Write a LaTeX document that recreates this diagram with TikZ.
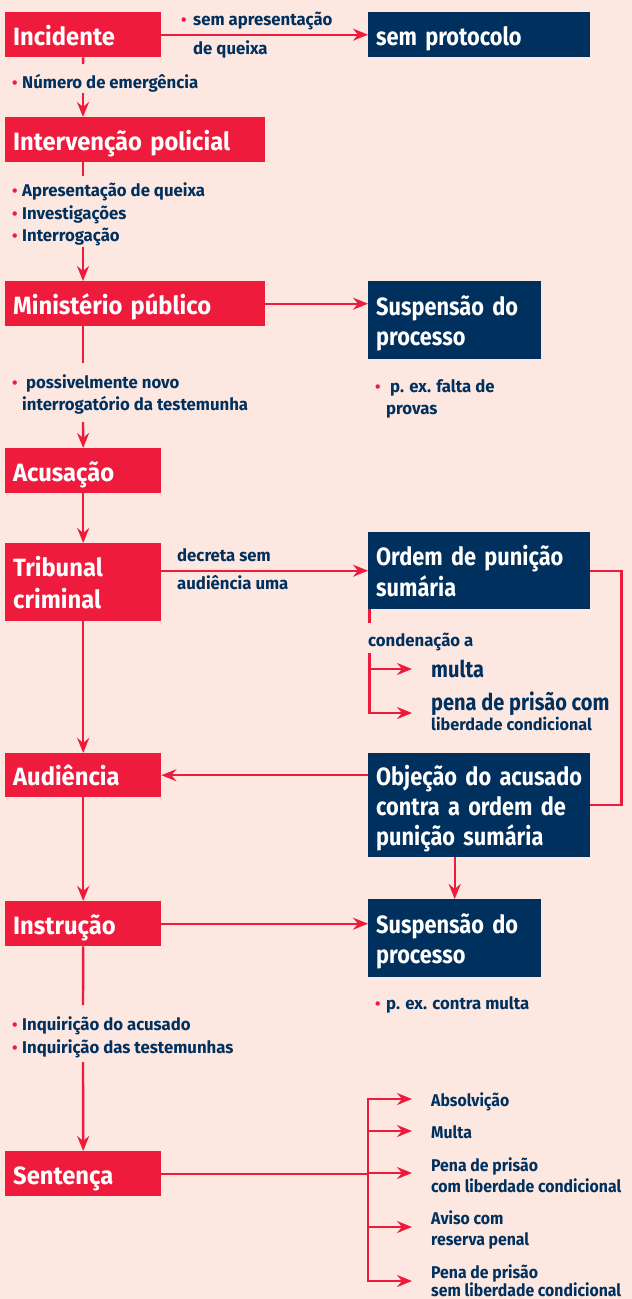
\documentclass[tikz,border=0pt]{standalone}
\usepackage{fontspec}
\setmainfont{Fira Sans}[FakeStretch=0.985]
\newfontfamily\redfont{Fira Sans}[FakeStretch=0.95]
\newfontfamily\bluefont{Fira Sans}[FakeStretch=0.87]
\newfontfamily\outfont{Fira Sans}[FakeStretch=0.93]
\usetikzlibrary{arrows.meta,calc}
\definecolor{bg}{HTML}{FDE7E1}
\definecolor{myred}{HTML}{EE1B3C}
\definecolor{navy}{HTML}{00305E}
\newcommand\mybul[1][10pt]{\makebox[#1][l]{\textcolor{myred}{\fontsize{16}{16}\selectfont\textbullet}}}
\newcommand\bsh{\rule{0pt}{28pt}}
\newcommand\bsd{\rule[-7pt]{0pt}{7pt}}
\newcommand\bs{\bsh\bsd}
\begin{document}
\begin{tikzpicture}[x=1pt,y=-1pt,
 box/.style={anchor=north west, inner xsep=8pt, inner ysep=0pt, text=white, align=left},
 redbox/.style={box, fill=myred, font=\redfont\fontsize{25}{31}\selectfont\bfseries},
 bluebox/.style={box, fill=navy, font=\bluefont\fontsize{25}{31}\selectfont\bfseries},
 conn/.style={draw=myred, line width=2.4pt},
 arr/.style={conn, -{Stealth[length=15pt,width=12pt,inset=5pt]}},
 dblarr/.style={conn, {Stealth[length=15pt,width=12pt,inset=5pt]}-{Stealth[length=15pt,width=12pt,inset=5pt]}},
 lbl/.style={anchor=base west, inner sep=0pt, text=navy, font=\fontsize{17}{22}\selectfont\bfseries},
 outlbl/.style={lbl, font=\outfont\fontsize{17}{22}\selectfont\bfseries},
 biglbl/.style={lbl, font=\bluefont\fontsize{23}{26}\selectfont\bfseries},
 smalllbl/.style={lbl, font=\fontsize{16.5}{20}\selectfont\bfseries},
]
\fill[bg] (0,0) rectangle (632,1299);
\useasboundingbox (0,0) rectangle (632,1299);

% boxes
\node[redbox, text width=140pt, minimum height=45pt] (inc) at (5,12) {Incidente\bs};
\node[bluebox, text width=206pt, minimum height=45pt] (semprot) at (368,12) {sem protocolo\bs};
\node[redbox, text width=244pt, minimum height=45pt] (interv) at (5,117) {Intervenção policial\bs};
\node[redbox, text width=244pt, minimum height=45pt] (min) at (5,281) {Ministério público\bs};
\node[bluebox, text width=157pt, minimum height=78pt, font=\bluefont\fontsize{25}{30}\selectfont\bfseries] (susp1) at (368,281) {\bsh Suspensão do\\processo\bsd};
\node[redbox, text width=140pt, minimum height=45pt] (acus) at (5,448) {Acusação\bs};
\node[redbox, text width=140pt, minimum height=78pt, font=\redfont\fontsize{25}{32}\selectfont\bfseries] (trib) at (5,543) {\bsh Tribunal\\criminal\bsd};
\node[bluebox, text width=206pt, minimum height=77pt] (ordem) at (368,532) {\bsh Ordem de punição\\sumária\bsd};
\node[redbox, text width=140pt, minimum height=44pt] (aud) at (5,753) {Audiência\bs};
\node[bluebox, text width=206pt, minimum height=104pt, font=\bluefont\fontsize{25}{30}\selectfont\bfseries] (obj) at (368,753) {\bsh Objeção do acusado\\contra a ordem de\\punição sumária\bsd};
\node[redbox, text width=140pt, minimum height=45pt] (instr) at (5,901) {Instrução\bs};
\node[bluebox, text width=157pt, minimum height=78pt, font=\bluefont\fontsize{25}{30}\selectfont\bfseries] (susp2) at (368,899) {\bsh Suspensão do\\processo\bsd};
\node[redbox, text width=140pt, minimum height=45pt] (sent) at (5,1151) {Sentença\bs};

% labels
\node[lbl] (la1) at (181,25) {\mybul[12pt]sem apresentação};
\node[lbl] (la2) at (193,54) {de queixa};
\node[lbl] (lb1) at (12,88) {\mybul Número de emergência};
\node[lbl] (lc1) at (12,196) {\mybul Apresentação de queixa};
\node[lbl] (lc2) at (12,219) {\mybul Investigações};
\node[lbl] (lc3) at (12,241) {\mybul Interrogação};
\node[lbl] (ld1) at (12,388) {\mybul[14pt]possivelmente novo};
\node[lbl] (ld2) at (22,410) {interrogatório da testemunha};
\node[lbl] (le1) at (375,392) {\mybul[15pt]p. ex. falta de};
\node[lbl] (le2) at (386,414) {provas};
\node[lbl] (lf1) at (177,561) {decreta sem};
\node[lbl] (lf2) at (177,589) {audiência uma};
\node[lbl] (lg1) at (368,646) {condenação a};
\node[biglbl] (lg2) at (431,677) {multa};
\node[biglbl] (lg3) at (431,710) {pena de prisão com};
\node[smalllbl] (lg4) at (431,730) {liberdade condicional};
\node[lbl] (lh1) at (375,1009) {\mybul[11pt]p. ex. contra multa};
\node[lbl] (li1) at (12,1030) {\mybul Inquirição do acusado};
\node[lbl] (li2) at (12,1053) {\mybul Inquirição das testemunhas};
\node[outlbl] (lj1) at (431,1106) {Absolvição};
\node[outlbl] (lj2) at (431,1138) {Multa};
\node[outlbl] (lj3) at (431,1171) {Pena de prisão};
\node[outlbl] (lj4) at (431,1192) {com liberdade condicional};
\node[outlbl] (lj5) at (431,1224) {Aviso com};
\node[outlbl] (lj6) at (431,1245) {reserva penal};
\node[outlbl] (lj7) at (431,1278) {Pena de prisão};
\node[outlbl] (lj8) at (431,1296) {sem liberdade condicional};

% coordinates on the main spine
\coordinate (s1) at (83,64);
\coordinate (s2) at (83,93);
\coordinate (s3) at (83,176);
\coordinate (s4) at (83,247);
\coordinate (s5) at (83,363);
\coordinate (s6) at (83,422);
\coordinate (s7) at (83,1005);
\coordinate (s8) at (83,1062);

% main spine
\draw[conn] (inc.south) -- (s1);
\draw[arr] (s2) -- (s2 |- interv.north);
\draw[conn] (s3 |- interv.south) -- (s3);
\draw[arr] (s4) -- (s4 |- min.north);
\draw[conn] (s5 |- min.south) -- (s5);
\draw[arr] (s6) -- (acus.north);
\draw[arr] (acus.south) -- (trib.north);
\draw[arr] (trib.south) -- (aud.north);
\draw[arr] (aud.south) -- (instr.north);
\draw[conn] (instr.south) -- (s7);
\draw[arr] (s8) -- (sent.north);

% side branches
\draw[arr] (inc.east) -- (semprot.west);
\draw[arr] (min.east) -- (min.east -| susp1.west);
\draw[arr] (trib.east |- ordem.west) -- (ordem.west);
\draw[conn] (ordem.east) -- ++(31,0) |- (obj.east);
\draw[arr] (obj.west |- aud.east) -- (aud.east);
\draw[arr] (susp2.north |- obj.south) -- (susp2.north);
\draw[arr] (instr.east) -- (instr.east -| susp2.west);

% condenação branch
\coordinate (o1) at (369.5,623);
\coordinate (o2) at (369.5,653);
\coordinate (o4) at (369.5,669);
\coordinate (tm) at (412,669);
\coordinate (tp) at (412,713);
\draw[conn] (o1 |- ordem.south) -- (o1);
\draw[arr] (o2) |- (tp);
\draw[arr] (o4) -- (tm);

% sentence bus
\coordinate (bA) at (368,1099);
\coordinate (bB) at (368,1131);
\coordinate (bC) at (368,1173);
\coordinate (bD) at (368,1227);
\coordinate (bE) at (368,1281);
\coordinate (tA) at (412,1099);
\coordinate (tB) at (412,1131);
\coordinate (tC) at (412,1173);
\coordinate (tD) at (412,1227);
\coordinate (tE) at (412,1281);
\draw[conn] (sent.east) -- (sent.east -| bC);
\draw[dblarr] (tA) -| (bE) -- (tE);
\draw[arr] (bB) -- (tB);
\draw[arr] (bC) -- (tC);
\draw[arr] (bD) -- (tD);
\end{tikzpicture}
\end{document}
